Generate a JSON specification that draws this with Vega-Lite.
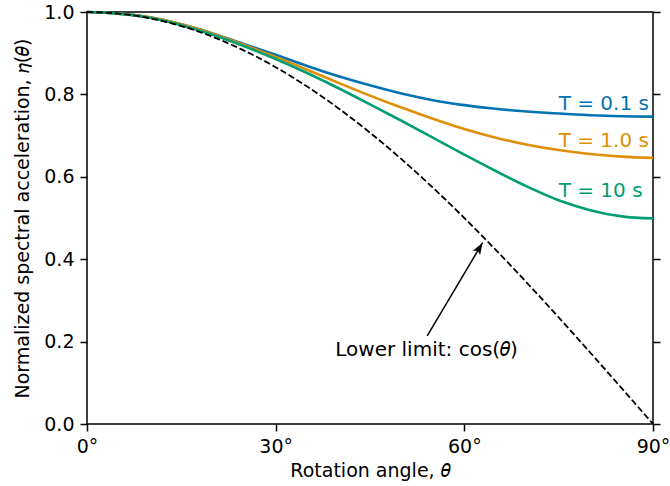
{
  "$schema": "https://vega.github.io/schema/vega-lite/v6.json",
  "width": 566,
  "height": 412,
  "autosize": {"type": "none"},
  "padding": {"left": 87, "top": 12, "right": 17, "bottom": 62},
  "config": {
    "font": "DejaVu Sans",
    "view": {"stroke": "black", "strokeWidth": 1.5},
    "axis": {
      "domain": false, "grid": false,
      "tickColor": "black", "tickWidth": 1.5, "tickSize": 7,
      "labelFontSize": 19, "labelColor": "black", "labelFont": "DejaVu Sans",
      "titleFontSize": 19, "titleFontWeight": "normal", "titleColor": "black", "titleFont": "DejaVu Sans"
    }
  },
  "datasets": {
    "curves": [
      {"theta": 0, "eta": 1.0, "series": "T = 0.1 s"},
      {"theta": 5, "eta": 0.996, "series": "T = 0.1 s"},
      {"theta": 10, "eta": 0.987, "series": "T = 0.1 s"},
      {"theta": 15, "eta": 0.970, "series": "T = 0.1 s"},
      {"theta": 20, "eta": 0.948, "series": "T = 0.1 s"},
      {"theta": 25, "eta": 0.922, "series": "T = 0.1 s"},
      {"theta": 30, "eta": 0.896, "series": "T = 0.1 s"},
      {"theta": 35, "eta": 0.869, "series": "T = 0.1 s"},
      {"theta": 40, "eta": 0.844, "series": "T = 0.1 s"},
      {"theta": 45, "eta": 0.822, "series": "T = 0.1 s"},
      {"theta": 50, "eta": 0.802, "series": "T = 0.1 s"},
      {"theta": 55, "eta": 0.786, "series": "T = 0.1 s"},
      {"theta": 60, "eta": 0.774, "series": "T = 0.1 s"},
      {"theta": 65, "eta": 0.765, "series": "T = 0.1 s"},
      {"theta": 70, "eta": 0.7585, "series": "T = 0.1 s"},
      {"theta": 75, "eta": 0.7535, "series": "T = 0.1 s"},
      {"theta": 80, "eta": 0.7495, "series": "T = 0.1 s"},
      {"theta": 85, "eta": 0.747, "series": "T = 0.1 s"},
      {"theta": 90, "eta": 0.746, "series": "T = 0.1 s"},
      {"theta": 0, "eta": 1.0, "series": "T = 1.0 s"},
      {"theta": 5, "eta": 0.996, "series": "T = 1.0 s"},
      {"theta": 10, "eta": 0.987, "series": "T = 1.0 s"},
      {"theta": 15, "eta": 0.970, "series": "T = 1.0 s"},
      {"theta": 20, "eta": 0.947, "series": "T = 1.0 s"},
      {"theta": 25, "eta": 0.920, "series": "T = 1.0 s"},
      {"theta": 30, "eta": 0.891, "series": "T = 1.0 s"},
      {"theta": 35, "eta": 0.860, "series": "T = 1.0 s"},
      {"theta": 40, "eta": 0.828, "series": "T = 1.0 s"},
      {"theta": 45, "eta": 0.797, "series": "T = 1.0 s"},
      {"theta": 50, "eta": 0.768, "series": "T = 1.0 s"},
      {"theta": 55, "eta": 0.741, "series": "T = 1.0 s"},
      {"theta": 60, "eta": 0.716, "series": "T = 1.0 s"},
      {"theta": 65, "eta": 0.695, "series": "T = 1.0 s"},
      {"theta": 70, "eta": 0.678, "series": "T = 1.0 s"},
      {"theta": 75, "eta": 0.665, "series": "T = 1.0 s"},
      {"theta": 80, "eta": 0.6555, "series": "T = 1.0 s"},
      {"theta": 85, "eta": 0.649, "series": "T = 1.0 s"},
      {"theta": 90, "eta": 0.646, "series": "T = 1.0 s"},
      {"theta": 0, "eta": 1.0, "series": "T = 10 s"},
      {"theta": 5, "eta": 0.996, "series": "T = 10 s"},
      {"theta": 10, "eta": 0.986, "series": "T = 10 s"},
      {"theta": 15, "eta": 0.968, "series": "T = 10 s"},
      {"theta": 20, "eta": 0.945, "series": "T = 10 s"},
      {"theta": 25, "eta": 0.917, "series": "T = 10 s"},
      {"theta": 30, "eta": 0.886, "series": "T = 10 s"},
      {"theta": 35, "eta": 0.852, "series": "T = 10 s"},
      {"theta": 40, "eta": 0.815, "series": "T = 10 s"},
      {"theta": 45, "eta": 0.776, "series": "T = 10 s"},
      {"theta": 50, "eta": 0.736, "series": "T = 10 s"},
      {"theta": 55, "eta": 0.695, "series": "T = 10 s"},
      {"theta": 60, "eta": 0.654, "series": "T = 10 s"},
      {"theta": 65, "eta": 0.614, "series": "T = 10 s"},
      {"theta": 70, "eta": 0.576, "series": "T = 10 s"},
      {"theta": 75, "eta": 0.543, "series": "T = 10 s"},
      {"theta": 80, "eta": 0.519, "series": "T = 10 s"},
      {"theta": 85, "eta": 0.504, "series": "T = 10 s"},
      {"theta": 90, "eta": 0.499, "series": "T = 10 s"}
    ],
    "cosine": [
      {"theta": 0, "eta": 1.0},
      {"theta": 5, "eta": 0.9962},
      {"theta": 10, "eta": 0.9848},
      {"theta": 15, "eta": 0.9659},
      {"theta": 20, "eta": 0.9397},
      {"theta": 25, "eta": 0.9063},
      {"theta": 30, "eta": 0.8660},
      {"theta": 35, "eta": 0.8192},
      {"theta": 40, "eta": 0.7660},
      {"theta": 45, "eta": 0.7071},
      {"theta": 50, "eta": 0.6428},
      {"theta": 55, "eta": 0.5736},
      {"theta": 60, "eta": 0.5},
      {"theta": 65, "eta": 0.4226},
      {"theta": 70, "eta": 0.3420},
      {"theta": 75, "eta": 0.2588},
      {"theta": 80, "eta": 0.1736},
      {"theta": 85, "eta": 0.0872},
      {"theta": 90, "eta": 0.0}
    ],
    "labels": [
      {"theta": 75, "eta": 0.762, "series": "T = 0.1 s"},
      {"theta": 75, "eta": 0.672, "series": "T = 1.0 s"},
      {"theta": 75, "eta": 0.550, "series": "T = 10 s"}
    ],
    "arrow": [
      {"theta": 54.1, "eta": 0.214, "theta2": 62.9, "eta2": 0.44}
    ],
    "note": [
      {"theta": 54, "eta": 0.165, "text": "Lower limit: cos(𝜃)"}
    ]
  },
  "resolve": {"axis": {"y": "independent"}},
  "layer": [
    {
      "data": {"name": "curves"},
      "mark": {"type": "line", "strokeWidth": 2.6, "interpolate": "monotone"},
      "encoding": {
        "x": {"field": "theta", "type": "quantitative",
              "scale": {"domain": [0, 90], "nice": false, "zero": false},
              "axis": {"values": [0, 30, 60, 90], "labelExpr": "datum.value + '°'", "labelFlush": false, "labelPadding": 6, "title": "Rotation angle, 𝜃", "titlePadding": 5}},
        "y": {"field": "eta", "type": "quantitative",
              "scale": {"domain": [0, 1], "nice": false},
              "axis": {"values": [0, 0.2, 0.4, 0.6, 0.8, 1.0], "format": ".1f", "labelPadding": 6, "title": "Normalized spectral acceleration, 𝜂(𝜃)", "titlePadding": 11}},
        "color": {"field": "series", "type": "nominal",
                  "scale": {"domain": ["T = 0.1 s", "T = 1.0 s", "T = 10 s"], "range": ["#0173B2", "#DE8F05", "#029E73"]},
                  "legend": null},
        "detail": {"field": "series"}
      }
    },
    {
      "data": {"name": "cosine"},
      "mark": {"type": "line", "color": "black", "strokeWidth": 1.8, "strokeDash": [6.5, 2.8], "interpolate": "monotone"},
      "encoding": {
        "x": {"field": "theta", "type": "quantitative", "scale": {"domain": [0, 90], "nice": false, "zero": false}},
        "y": {"field": "eta", "type": "quantitative", "scale": {"domain": [0, 1], "nice": false},
              "axis": {"orient": "right", "values": [0, 0.2, 0.4, 0.6, 0.8, 1.0], "labels": false, "title": null}}
      }
    },
    {
      "data": {"name": "arrow"},
      "mark": {"type": "rule", "color": "black", "strokeWidth": 1.5},
      "encoding": {
        "x": {"field": "theta", "type": "quantitative"},
        "y": {"field": "eta", "type": "quantitative", "axis": null},
        "x2": {"field": "theta2"},
        "y2": {"field": "eta2"}
      }
    },
    {
      "data": {"name": "arrow"},
      "mark": {"type": "point", "shape": "M0,0 L-0.36,1 L0,0.8 L0.36,1 Z", "filled": true, "color": "black", "opacity": 1, "size": 560, "angle": 31, "strokeWidth": 0},
      "encoding": {
        "x": {"field": "theta2", "type": "quantitative"},
        "y": {"field": "eta2", "type": "quantitative", "axis": null}
      }
    },
    {
      "data": {"name": "labels"},
      "mark": {"type": "text", "align": "left", "baseline": "alphabetic", "fontSize": 20},
      "encoding": {
        "x": {"field": "theta", "type": "quantitative"},
        "y": {"field": "eta", "type": "quantitative", "axis": null},
        "text": {"field": "series"},
        "color": {"field": "series", "type": "nominal", "legend": null}
      }
    },
    {
      "data": {"name": "note"},
      "mark": {"type": "text", "align": "center", "baseline": "alphabetic", "fontSize": 20, "color": "black"},
      "encoding": {
        "x": {"field": "theta", "type": "quantitative"},
        "y": {"field": "eta", "type": "quantitative", "axis": null},
        "text": {"field": "text"}
      }
    }
  ]
}
